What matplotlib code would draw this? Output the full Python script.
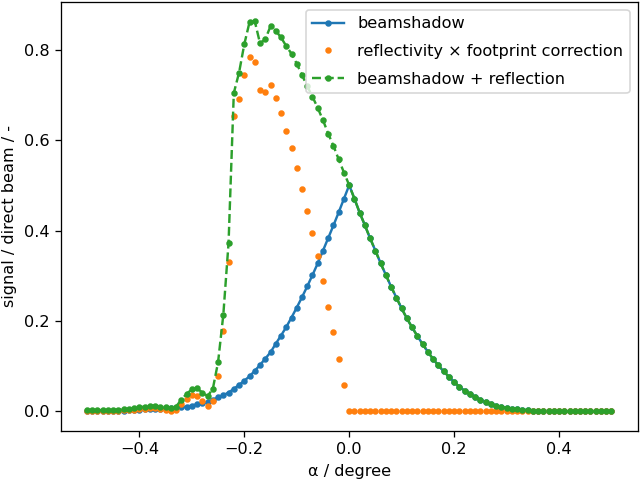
import numpy as np
import matplotlib
matplotlib.use("Agg")
import matplotlib.pyplot as plt

alpha = np.round(np.linspace(-0.5, 0.5, 101), 2)

beamshadow = [
    0.001, 0.001, 0.001, 0.001, 0.001, 0.002, 0.002, 0.002, 0.003, 0.003,
    0.004, 0.005, 0.005, 0.005, 0.005, 0.006, 0.007, 0.008, 0.009, 0.011,
    0.013, 0.016, 0.018, 0.021, 0.026, 0.031, 0.036, 0.042, 0.050, 0.059,
    0.068, 0.078, 0.090, 0.103, 0.117, 0.131, 0.150, 0.168, 0.187, 0.208,
    0.230, 0.253, 0.277, 0.302, 0.328, 0.356, 0.384, 0.412, 0.441, 0.471,
    0.501,
    0.471, 0.440, 0.412, 0.383, 0.356, 0.328, 0.302, 0.276, 0.252, 0.228,
    0.206, 0.186, 0.167, 0.149, 0.132, 0.116, 0.102, 0.089, 0.077, 0.065,
    0.055, 0.046, 0.039, 0.032, 0.026, 0.021, 0.017, 0.013, 0.010, 0.008,
    0.006, 0.005, 0.004, 0.003, 0.002, 0.002, 0.001, 0.001, 0.001, 0.001,
    0.000, 0.000, 0.000, 0.000, 0.000, 0.000, 0.000, 0.000, 0.000, 0.000,
]

reflectivity = [
    0.002, 0.002, 0.002, 0.002, 0.002, 0.002, 0.002, 0.003, 0.003, 0.004,
    0.005, 0.006, 0.008, 0.008, 0.006, 0.003, 0.001, 0.003, 0.017, 0.028,
    0.036, 0.035, 0.024, 0.013, 0.024, 0.078, 0.178, 0.331, 0.655, 0.691,
    0.745, 0.784, 0.774, 0.712, 0.707, 0.722, 0.693, 0.660, 0.622, 0.584,
    0.540, 0.492, 0.443, 0.395, 0.344, 0.289, 0.231, 0.176, 0.117, 0.058,
    0.000,
    0.000, 0.000, 0.000, 0.000, 0.000, 0.000, 0.000, 0.000, 0.000, 0.000,
    0.000, 0.000, 0.000, 0.000, 0.000, 0.000, 0.000, 0.000, 0.000, 0.000,
    0.000, 0.000, 0.000, 0.000, 0.000, 0.000, 0.000, 0.000, 0.000, 0.000,
    0.000, 0.000, 0.000, 0.000, 0.000, 0.000, 0.000, 0.000, 0.000, 0.000,
    0.000, 0.000, 0.000, 0.000, 0.000, 0.000, 0.000, 0.000, 0.000, 0.000,
]

combined = [
    0.003, 0.003, 0.003, 0.003, 0.003, 0.004, 0.004, 0.005, 0.006, 0.007,
    0.009, 0.011, 0.013, 0.013, 0.011, 0.009, 0.008, 0.011, 0.026, 0.039,
    0.049, 0.051, 0.042, 0.034, 0.050, 0.109, 0.214, 0.373, 0.705, 0.750,
    0.813, 0.862, 0.864, 0.815, 0.824, 0.853, 0.843, 0.828, 0.809, 0.792,
    0.770, 0.745, 0.720, 0.697, 0.672, 0.645, 0.615, 0.588, 0.558, 0.529,
    0.501,
    0.471, 0.440, 0.412, 0.383, 0.356, 0.328, 0.302, 0.276, 0.252, 0.228,
    0.206, 0.186, 0.167, 0.149, 0.132, 0.116, 0.102, 0.089, 0.077, 0.065,
    0.055, 0.046, 0.039, 0.032, 0.026, 0.021, 0.017, 0.013, 0.010, 0.008,
    0.006, 0.005, 0.004, 0.003, 0.002, 0.002, 0.001, 0.001, 0.001, 0.001,
    0.000, 0.000, 0.000, 0.000, 0.000, 0.000, 0.000, 0.000, 0.000, 0.000,
]

DPI = 116
fig = plt.figure(figsize=(640 / DPI, 483 / DPI), dpi=DPI)
ax = fig.add_axes([60.7 / 640, (483 - 431) / 483, (637.7 - 60.7) / 640, (431 - 1.7) / 483])

ax.plot(alpha, beamshadow, '.-', label='beamshadow')
ax.plot(alpha, reflectivity, '.', label='reflectivity \u00d7 footprint correction')
ax.plot(alpha, combined, '.--', label='beamshadow + reflection')

ax.set_xlabel('\u03b1 / degree')
ax.set_ylabel('signal / direct beam / -')
ax.legend(loc='upper right', labelspacing=0.8)

fig.savefig('out.png', dpi=DPI)
